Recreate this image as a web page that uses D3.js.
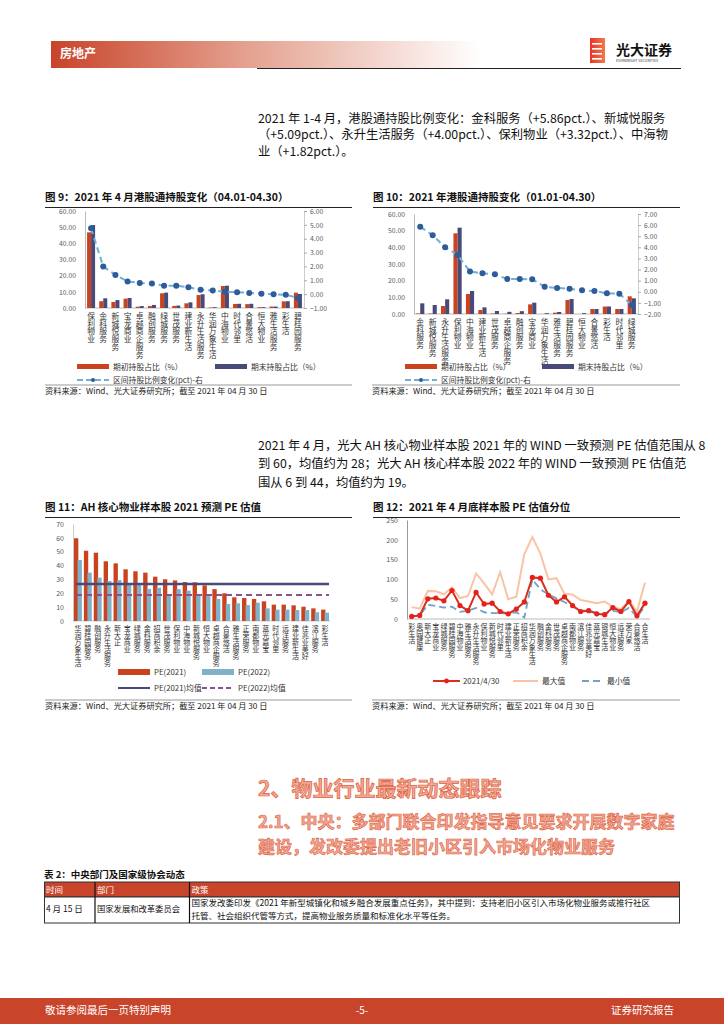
<!DOCTYPE html>
<html>
<head>
<meta charset="utf-8">
<script src="https://cdn.jsdelivr.net/npm/d3@7"></script>
<style>
  body { margin: 0; background: #fff; }
  text { font-family: "Noto Sans CJK SC", "Noto Sans", sans-serif; }
</style>
</head>
<body>
<svg id="page"></svg>
<script>
//figure 9 data (04.01-04.30)
const fig9Cats = ["保利物业","金科服务","新城悦服务","宝龙商业","卓越商企服务","融创服务","绿城服务","世茂服务","建业新生活","永升生活服务","华润万象生活","中海物业","时代邻里","合景悠活","恒大物业","雅生活服务","彩生活","碧桂园服务"];
const fig9Start = [46.8,4.2,3.7,5.8,0.8,1.2,9.1,1.3,2.9,8.0,0.3,13.6,2.5,2.4,0.5,0.9,4.1,9.5];
const fig9End   = [51.3,6.0,4.9,6.2,1.2,1.9,9.5,1.5,3.5,8.5,0.5,13.8,2.6,2.6,0.5,0.9,4.2,8.7];
const fig9Chg   = [4.75,1.99,1.39,0.91,0.81,0.76,0.60,0.60,0.50,0.31,0.26,0.17,0.14,0.09,0.02,0.00,-0.05,-0.27];

//figure 10 data (01.01-04.30)
const fig10Cats = ["金科服务","新城悦服务","永升生活服务","保利物业","中海物业","建业新生活","世茂服务","卓越商企服务","融创服务","宝龙商业","华润万象生活","雅生活服务","碧桂园服务","恒大物业","合景悠活","彩生活","时代邻里","绿城服务"];
const fig10Start = [0.3,0.3,4.8,48.4,12.0,2.4,0.3,0.15,0.6,5.8,0.0,0.8,8.4,0.0,3.0,4.5,3.0,10.6];
const fig10End   = [6.4,5.4,8.8,51.8,13.8,4.0,1.8,1.3,1.7,6.8,0.5,1.2,9.0,0.5,3.0,4.5,3.0,9.4];
const fig10Chg   = [5.86,5.09,4.00,3.32,1.82,1.67,1.57,1.15,1.15,1.12,0.46,0.34,0.28,0.13,0.07,-0.14,-0.17,-1.19];

//figure 11 data (PE)
const fig11Cats = ["华润万象生活","碧桂园服务","融创服务","永升生活服务","新大正","宝龙商业","绿城服务","金科服务","招商积余","世茂服务","保利物业","中海物业","新城悦服务","恒大物业","卓越商企服务","合景悠活","雅生活服务","正荣服务","南都物业","蓝光嘉宝","时代邻里","远洋服务","建业新生活","佳兆业美好","滨江服务","彩生活"];
const pe2021 = [59.7,50.7,49.3,43.1,41.6,37.3,35.9,34.9,32.0,30.1,29.3,28.1,27.9,25.7,23.0,20.0,17.1,16.6,15.9,14.2,11.8,11.8,11.3,10.3,9.1,8.2];
const pe2022 = [44.0,34.9,31.3,28.9,29.6,26.0,26.0,23.1,24.0,18.8,23.0,21.9,19.5,18.0,15.9,12.3,12.8,11.5,13.2,9.1,8.2,8.2,7.9,7.9,6.3,6.0];

//figure 12 data (PE percentile)
const fig12Cats = ["彩生活","奥园健康","新大正","宝龙商业","绿城服务","碧桂园服务","中海物业","雅生活服务","永升生活服务","保利物业","新城悦服务","时代邻里","建业新生活","正荣服务","招商积余","华润万象生活","融创服务","金科服务","世茂服务","卓越商企服务","南都物业","滨江服务","佳兆业美好","蓝光嘉宝","银城生活","恒大物业","远洋服务","荣万家","合景悠活","合生活"];
const pctNow = [6.5,9,51,53,46,72,34,21,67,38,40,19,13,25,43,105,103,60,43,56,34,19,21,13,11,29,19,44,8,40];
const pctMax = [30,26,71,70,62,80,53,58,115,90,62,118,50,56,164,207,165,100,103,63,62,48,44,40,44,31,25,46,19,92];
const pctMin = [7,9,36,33,29,31,18,21,28,17,15,15,13,17,4,100,75,62,52,43,31,21,21,16,13,21,17,28,5,32];

const W = 724, H = 1024;
const RED = "#c9431f", PURPLE = "#4a4a78", GREY = "#595959";

const svg = d3.select("#page").attr("width", W).attr("height", H);

//header
const defs = svg.append("defs");
const hg = defs.append("linearGradient").attr("id","hdr").attr("x1","0").attr("x2","1");
hg.append("stop").attr("offset","0").attr("stop-color","#c8442a");
hg.append("stop").attr("offset","0.45").attr("stop-color","#e4a08e");
hg.append("stop").attr("offset","1").attr("stop-color","#ffffff");
svg.append("rect").attr("x",51).attr("y",41).attr("width",430).attr("height",27).attr("fill","url(#hdr)");
svg.append("text").attr("x",60).attr("y",58).attr("fill","#fff").attr("font-size",12).attr("font-weight","bold").text("房地产");
svg.append("line").attr("x1",257).attr("x2",681).attr("y1",68.5).attr("y2",68.5).attr("stroke","#222").attr("stroke-width",1.2);

//logo
const lg = defs.append("linearGradient").attr("id","logo").attr("x1","0").attr("x2","1");
lg.append("stop").attr("offset","0").attr("stop-color","#e8342a");
lg.append("stop").attr("offset","1").attr("stop-color","#f07a4a");
svg.append("rect").attr("x",590).attr("y",38).attr("width",15).attr("height",25).attr("fill","url(#logo)");
[43,48,53,58].forEach(yy => svg.append("rect").attr("x",592).attr("y",yy).attr("width",10).attr("height",1.6).attr("fill","#fff"));
svg.append("text").attr("x",616).attr("y",55).attr("font-size",14).attr("font-weight","bold").attr("fill","#111").text("光大证券");
svg.append("text").attr("x",616).attr("y",62).attr("font-size",3.6).attr("fill","#333").text("EVERBRIGHT SECURITIES");

//paragraph helper
function para(lines, x, y0, lh, size) {
  lines.forEach((t,i) => svg.append("text").attr("x",x).attr("y",y0+i*lh).attr("font-size",size).attr("fill","#111").text(t));
}
para(["2021 年 1-4 月，港股通持股比例变化：金科服务（+5.86pct.）、新城悦服务",
      "（+5.09pct.）、永升生活服务（+4.00pct.）、保利物业（+3.32pct.）、中海物",
      "业（+1.82pct.）。"], 258, 122.5, 16.8, 12.3);
para(["2021 年 4 月，光大 AH 核心物业样本股 2021 年的 WIND 一致预测 PE 估值范围从 8",
      "到 60，均值约为 28；光大 AH 核心样本股 2022 年的 WIND 一致预测 PE 估值范",
      "围从 6 到 44，均值约为 19。"], 258, 450, 18.3, 12.3);

function title(t, x, y, x2) {
  svg.append("text").attr("x",x).attr("y",y).attr("font-size",10.5).attr("font-weight","bold").attr("fill","#111").text(t);
  svg.append("line").attr("x1",x).attr("x2",x2).attr("y1",y+6.5).attr("y2",y+6.5).attr("stroke","#222").attr("stroke-width",1);
}
function source(x, y, x2) {
  svg.append("line").attr("x1",x).attr("x2",x2).attr("y1",y-6).attr("y2",y-6).attr("stroke","#999").attr("stroke-width",1);
  svg.append("text").attr("x",x).attr("y",y+3).attr("font-size",8.2).attr("fill","#222").text("资料来源：Wind、光大证券研究所；截至 2021 年 04 月 30 日");
}
function vlabels(g, cats, xf, y, size) {
  g.selectAll(null).data(cats).join("text")
    .attr("x", d => xf(d)).attr("y", y)
    .style("writing-mode","vertical-rl")
    .attr("font-size", size).attr("fill","#333").text(d => d);
}

//dual-axis bar + line chart
function barLine(cfg) {
  const g = svg.append("g");
  const x = d3.scaleBand().domain(cfg.cats).range([cfg.x0, cfg.x1]).paddingInner(0.34).paddingOuter(0.17);
  const xs = d3.scaleBand().domain([0,1]).range([0, x.bandwidth()]);
  const yL = d3.scaleLinear().domain([0,60]).range([cfg.yb, cfg.yt]);
  const yR = d3.scaleLinear().domain(cfg.rDom).range([cfg.yb, cfg.yt]);

  g.append("g").attr("transform",`translate(${cfg.x0},0)`)
    .call(d3.axisLeft(yL).ticks(6).tickSize(0).tickPadding(9).tickFormat(d3.format(".2f")))
    .call(a => a.select(".domain").attr("stroke","#bbb"))
    .call(a => a.selectAll("text").attr("fill",GREY).attr("font-size",6.8));
  g.append("g").attr("transform",`translate(${cfg.x1},0)`)
    .call(d3.axisRight(yR).ticks(cfg.rDom[1]-cfg.rDom[0]).tickSize(3).tickPadding(3).tickFormat(d3.format(".2f")))
    .call(a => a.select(".domain").attr("stroke","#ccc"))
    .call(a => a.selectAll("line").attr("stroke","#aaa"))
    .call(a => a.selectAll("text").attr("fill",GREY).attr("font-size",6.8));
  g.append("line").attr("x1",cfg.x0).attr("x2",cfg.x1).attr("y1",yL(0)).attr("y2",yL(0)).attr("stroke","#bbb");

  g.selectAll(".bs").data(cfg.start).join("rect")
    .attr("x",(d,i) => x(cfg.cats[i])+xs(0)).attr("width",xs.bandwidth())
    .attr("y",d => yL(d)).attr("height",d => yL(0)-yL(d)).attr("fill",RED);
  g.selectAll(".be").data(cfg.end).join("rect")
    .attr("x",(d,i) => x(cfg.cats[i])+xs(1)).attr("width",xs.bandwidth())
    .attr("y",d => yL(d)).attr("height",d => yL(0)-yL(d)).attr("fill",PURPLE);

  const cx = (d,i) => x(cfg.cats[i]) + x.bandwidth()/2;
  g.append("path").datum(cfg.chg)
    .attr("d", d3.line().x(cx).y(d => yR(d)))
    .attr("fill","none").attr("stroke","#6fb0d4").attr("stroke-width",2).attr("stroke-dasharray","6,4");
  g.selectAll(".dot").data(cfg.chg).join("circle")
    .attr("cx",cx).attr("cy",d => yR(d)).attr("r",3).attr("fill","#2d5b9b");

  vlabels(g, cfg.cats, d => x(d)+x.bandwidth()/2, yL(0)+4, 7.8);

  //legend
  const L = cfg.leg;
  g.append("rect").attr("x",L.x).attr("y",L.y-3).attr("width",32).attr("height",5).attr("fill",RED);
  g.append("text").attr("x",L.x+36).attr("y",L.y+3).attr("font-size",7.8).attr("fill","#333").text("期初持股占比（%）");
  g.append("rect").attr("x",L.x2).attr("y",L.y-3).attr("width",32).attr("height",5).attr("fill",PURPLE);
  g.append("text").attr("x",L.x2+36).attr("y",L.y+3).attr("font-size",7.8).attr("fill","#333").text("期末持股占比（%）");
  g.append("line").attr("x1",L.x).attr("x2",L.x+32).attr("y1",L.y+13).attr("y2",L.y+13)
    .attr("stroke","#6fb0d4").attr("stroke-width",2).attr("stroke-dasharray","6,3");
  g.append("circle").attr("cx",L.x+16).attr("cy",L.y+13).attr("r",2).attr("fill","#2d5b9b");
  g.append("text").attr("x",L.x+36).attr("y",L.y+16).attr("font-size",7.8).attr("fill","#333").text("区间持股比例变化(pct)-右");
}

title("图 9：2021 年 4 月港股通持股变化（04.01-04.30）", 45, 201, 352);
barLine({cats:fig9Cats, start:fig9Start, end:fig9End, chg:fig9Chg, x0:85, x1:304, yt:211, yb:308, rDom:[-1,6], leg:{x:77, x2:215, y:367}});
source(45, 391, 352);

title("图 10：2021 年港股通持股变化（01.01-04.30）", 373, 201, 680);
barLine({cats:fig10Cats, start:fig10Start, end:fig10End, chg:fig10Chg, x0:414, x1:638, yt:214, yb:314, rDom:[-2,7], leg:{x:405, x2:542, y:367}});
source(372, 391, 680);

//figure 11
title("图 11：AH 核心物业样本股 2021 预测 PE 估值", 45, 511, 352);
{
  const g = svg.append("g");
  const x = d3.scaleBand().domain(fig11Cats).range([73, 330]).paddingInner(0.2).paddingOuter(0.1);
  const y = d3.scaleLinear().domain([0,70]).range([621, 524]);
  const bw = x.bandwidth()*0.55;
  g.append("g").attr("transform","translate(73,0)")
    .call(d3.axisLeft(y).ticks(7).tickSize(0).tickPadding(9))
    .call(a => a.select(".domain").attr("stroke","#ccc"))
    .call(a => a.selectAll("text").attr("fill",GREY).attr("font-size",7));
  g.append("line").attr("x1",73).attr("x2",330).attr("y1",y(0)).attr("y2",y(0)).attr("stroke","#ccc");
  g.selectAll(".r").data(pe2021).join("rect")
    .attr("x",(d,i) => x(fig11Cats[i])).attr("width",bw)
    .attr("y",d => y(d)).attr("height",d => y(0)-y(d)).attr("fill",RED);
  g.selectAll(".b").data(pe2022).join("rect")
    .attr("x",(d,i) => x(fig11Cats[i])+x.bandwidth()-bw).attr("width",bw)
    .attr("y",d => y(d)).attr("height",d => y(0)-y(d)).attr("fill","#7fb1c9");
  const m1 = d3.mean(pe2021), m2 = d3.mean(pe2022);
  g.append("line").attr("x1",x(fig11Cats[0])+2).attr("x2",x(fig11Cats[25])+x.bandwidth())
    .attr("y1",y(m1)).attr("y2",y(m1)).attr("stroke",PURPLE).attr("stroke-width",2.6);
  g.append("line").attr("x1",x(fig11Cats[0])+2).attr("x2",x(fig11Cats[25])+x.bandwidth())
    .attr("y1",y(m2)).attr("y2",y(m2)).attr("stroke","#8e4f8e").attr("stroke-width",1.8).attr("stroke-dasharray","6,4");
  vlabels(g, fig11Cats, d => x(d)+x.bandwidth()/2, 625, 7);
  g.append("rect").attr("x",118).attr("y",669).attr("width",32).attr("height",6).attr("fill",RED);
  g.append("text").attr("x",154).attr("y",675).attr("font-size",7.8).attr("fill","#333").text("PE(2021)");
  g.append("rect").attr("x",202).attr("y",669).attr("width",32).attr("height",6).attr("fill","#7fb1c9");
  g.append("text").attr("x",238).attr("y",675).attr("font-size",7.8).attr("fill","#333").text("PE(2022)");
  g.append("line").attr("x1",118).attr("x2",150).attr("y1",688).attr("y2",688).attr("stroke",PURPLE).attr("stroke-width",2);
  g.append("text").attr("x",154).attr("y",691).attr("font-size",7.8).attr("fill","#333").text("PE(2021)均值");
  g.append("line").attr("x1",202).attr("x2",234).attr("y1",688).attr("y2",688).attr("stroke","#8e4f8e").attr("stroke-width",1.8).attr("stroke-dasharray","5,3");
  g.append("text").attr("x",238).attr("y",691).attr("font-size",7.8).attr("fill","#333").text("PE(2022)均值");
}
source(45, 706, 352);

//figure 12
title("图 12：2021 年 4 月底样本股 PE 估值分位", 373, 511, 680);
{
  const g = svg.append("g");
  const x = d3.scalePoint().domain(fig12Cats).range([411.7, 645]);
  const y = d3.scaleLinear().domain([0,250]).range([619, 520]);
  g.append("g").attr("transform","translate(407,0)")
    .call(d3.axisLeft(y).ticks(5).tickSize(0).tickPadding(9))
    .call(a => a.select(".domain").attr("stroke","#999"))
    .call(a => a.selectAll("text").attr("fill",GREY).attr("font-size",7));
  g.append("line").attr("x1",407).attr("x2",650).attr("y1",y(0)).attr("y2",y(0)).attr("stroke","#bbb");
  const ln = d3.line().x((d,i) => x(fig12Cats[i])).y(d => y(d)).defined(d => d != null);
  g.append("path").datum(pctMax).attr("d",ln).attr("fill","none").attr("stroke","#f9c4a6").attr("stroke-width",2);
  g.append("path").datum(pctMin).attr("d",ln).attr("fill","none").attr("stroke","#6ea3c6").attr("stroke-width",1.8).attr("stroke-dasharray","7,4");
  g.append("path").datum(pctNow).attr("d",ln).attr("fill","none").attr("stroke","#d7301f").attr("stroke-width",2);
  g.selectAll(".d").data(pctNow).join("circle")
    .attr("cx",(d,i) => x(fig12Cats[i])).attr("cy",d => y(d)).attr("r",2.6).attr("fill","#e8201a");
  vlabels(g, fig12Cats, d => x(d), 623, 7);
  g.append("line").attr("x1",433).attr("x2",460).attr("y1",681).attr("y2",681).attr("stroke","#d7301f").attr("stroke-width",2);
  g.append("circle").attr("cx",446.5).attr("cy",681).attr("r",2.4).attr("fill","#e8201a");
  g.append("text").attr("x",463).attr("y",684).attr("font-size",7.8).attr("fill","#333").text("2021/4/30");
  g.append("line").attr("x1",513).attr("x2",538).attr("y1",681).attr("y2",681).attr("stroke","#f9c4a6").attr("stroke-width",2);
  g.append("text").attr("x",542).attr("y",684).attr("font-size",7.8).attr("fill","#333").text("最大值");
  g.append("line").attr("x1",582).attr("x2",604).attr("y1",681).attr("y2",681).attr("stroke","#6ea3c6").attr("stroke-width",1.8).attr("stroke-dasharray","7,4");
  g.append("text").attr("x",607).attr("y",684).attr("font-size",7.8).attr("fill","#333").text("最小值");
}
source(372, 706, 680);

//section headings
svg.append("text").attr("x",258).attr("y",796).attr("font-size",21).attr("font-weight","bold")
  .attr("fill","#f2a994").attr("stroke","#dc5f42").attr("stroke-width",0.7).text("2、物业行业最新动态跟踪");
svg.append("text").attr("x",258).attr("y",828).attr("font-size",17).attr("font-weight","bold")
  .attr("fill","#f2a994").attr("stroke","#dc5f42").attr("stroke-width",0.6).text("2.1、中央：多部门联合印发指导意见要求开展数字家庭");
svg.append("text").attr("x",258).attr("y",853).attr("font-size",17).attr("font-weight","bold")
  .attr("fill","#f2a994").attr("stroke","#dc5f42").attr("stroke-width",0.6).text("建设，发改委提出老旧小区引入市场化物业服务");

//table
svg.append("text").attr("x",44).attr("y",878).attr("font-size",9.5).attr("font-weight","bold").attr("fill","#111").text("表 2：中央部门及国家级协会动态");
svg.append("rect").attr("x",44.5).attr("y",882).attr("width",635).attr("height",15).attr("fill","#c8442a").attr("stroke","#333");
svg.append("rect").attr("x",44.5).attr("y",897).attr("width",635).attr("height",26).attr("fill","#fff").attr("stroke","#333");
[95,189.5].forEach(xx => svg.append("line").attr("x1",xx).attr("x2",xx).attr("y1",882).attr("y2",923).attr("stroke","#111").attr("stroke-width",1.2));
[["时间",46],["部门",97],["政策",191.5]].forEach(([t,xx]) => svg.append("text").attr("x",xx).attr("y",893).attr("font-size",8.5).attr("fill","#fff").text(t));
svg.append("text").attr("x",46).attr("y",912).attr("font-size",8.5).attr("fill","#111").text("4 月 15 日");
svg.append("text").attr("x",97).attr("y",912).attr("font-size",8.3).attr("fill","#111").text("国家发展和改革委员会");
svg.append("text").attr("x",191.5).attr("y",906).attr("font-size",8.5).attr("fill","#111").text("国家发改委印发《2021 年新型城镇化和城乡融合发展重点任务》，其中提到：支持老旧小区引入市场化物业服务或推行社区");
svg.append("text").attr("x",191.5).attr("y",919).attr("font-size",8.5).attr("fill","#111").text("托管、社会组织代管等方式，提高物业服务质量和标准化水平等任务。");

//footer
svg.append("rect").attr("x",0).attr("y",998).attr("width",W).attr("height",26).attr("fill","#c8442a");
svg.append("text").attr("x",45).attr("y",1014).attr("font-size",10.5).attr("fill","#fff").text("敬请参阅最后一页特别声明");
svg.append("text").attr("x",362).attr("y",1014).attr("text-anchor","middle").attr("font-size",10).attr("fill","#fff").text("-5-");
svg.append("text").attr("x",674).attr("y",1014).attr("text-anchor","end").attr("font-size",10.5).attr("fill","#fff").text("证券研究报告");
</script>
</body>
</html>
